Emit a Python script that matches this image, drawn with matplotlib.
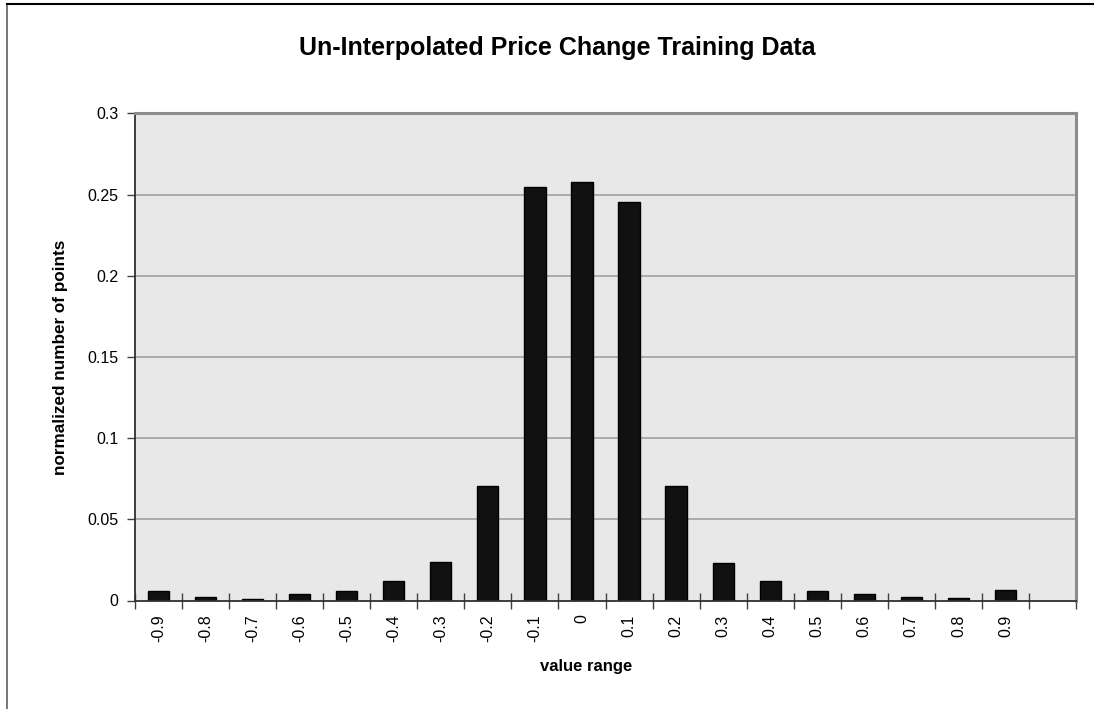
import matplotlib
matplotlib.use("Agg")
import matplotlib.pyplot as plt
from matplotlib.lines import Line2D

categories = ["-0.9", "-0.8", "-0.7", "-0.6", "-0.5", "-0.4", "-0.3", "-0.2", "-0.1",
              "0", "0.1", "0.2", "0.3", "0.4", "0.5", "0.6", "0.7", "0.8", "0.9"]
values = [0.0057, 0.0022, 0.0012, 0.0043, 0.0059, 0.0122, 0.0234, 0.0704, 0.2547,
          0.2578, 0.2451, 0.0708, 0.0232, 0.0121, 0.0056, 0.0043, 0.0019, 0.0014, 0.0064]
n_slots = 20
yticks = [0, 0.05, 0.1, 0.15, 0.2, 0.25, 0.3]
ytick_labels = ["0", "0.05", "0.1", "0.15", "0.2", "0.25", "0.3"]

plt.rcParams['font.family'] = ['Liberation Sans', 'DejaVu Sans']

W, H = 1094, 709
fig = plt.figure(figsize=(W / 100, H / 100), dpi=100)
fig.patch.set_facecolor("white")

left, right, top, bottom = 135, 1076, 113.3, 600.5
ax = fig.add_axes([left / W, 1 - bottom / H, (right - left) / W, (bottom - top) / H])
ax.set_facecolor("#E8E8E8")

x = [i + 0.5 for i in range(len(categories))]
ax.bar(x, values, width=0.45, color="#111111", edgecolor="black", linewidth=1.0, zorder=3)

ax.set_xlim(0, n_slots)
ax.set_ylim(0, 0.3)

ax.set_yticks(yticks)
ax.set_yticklabels(ytick_labels, fontsize=11.5)
for y in yticks[1:-1]:
    ax.axhline(y, color="#A0A0A0", linewidth=1.2, zorder=1)

ax.set_xticks(range(n_slots + 1))
ax.set_xticklabels([])
ax.set_xticks(x, minor=True)
ax.set_xticklabels(categories, minor=True, rotation=90, fontsize=11.5)
ax.tick_params(axis="x", which="major", direction="inout", length=11, width=1, color="#404040")
ax.tick_params(axis="x", which="minor", length=0, pad=10)
ax.tick_params(axis="y", direction="out", length=6, width=1, color="#404040", pad=6)

for s in ["left", "bottom"]:
    ax.spines[s].set_color("#303030")
    ax.spines[s].set_linewidth(1.3)
for s in ["top", "right"]:
    ax.spines[s].set_color("#8C8C8C")
    ax.spines[s].set_linewidth(2.2)
ax.spines["bottom"].set_zorder(4)

fig.text(557 / W, 1 - 54.5 / H, "Un-Interpolated Price Change Training Data",
         ha="center", va="baseline", fontsize=18, fontweight="bold")
fig.text(586 / W, 1 - 667 / H, "value range", ha="center", va="center",
         fontsize=12, fontweight="bold")
fig.text(60 / W, 1 - 357 / H, "normalized number of points", ha="center", va="center",
         rotation=90, fontsize=12.3, fontweight="bold")

# outer chart frame (top and left edges visible)
fig.add_artist(Line2D([7 / W, 7 / W], [0, 1 - 4 / H], transform=fig.transFigure,
                      color="#606060", linewidth=1.2))
fig.add_artist(Line2D([7 / W, 1], [1 - 4 / H, 1 - 4 / H], transform=fig.transFigure,
                      color="black", linewidth=1.5))

fig.savefig("out.png", dpi=100)
